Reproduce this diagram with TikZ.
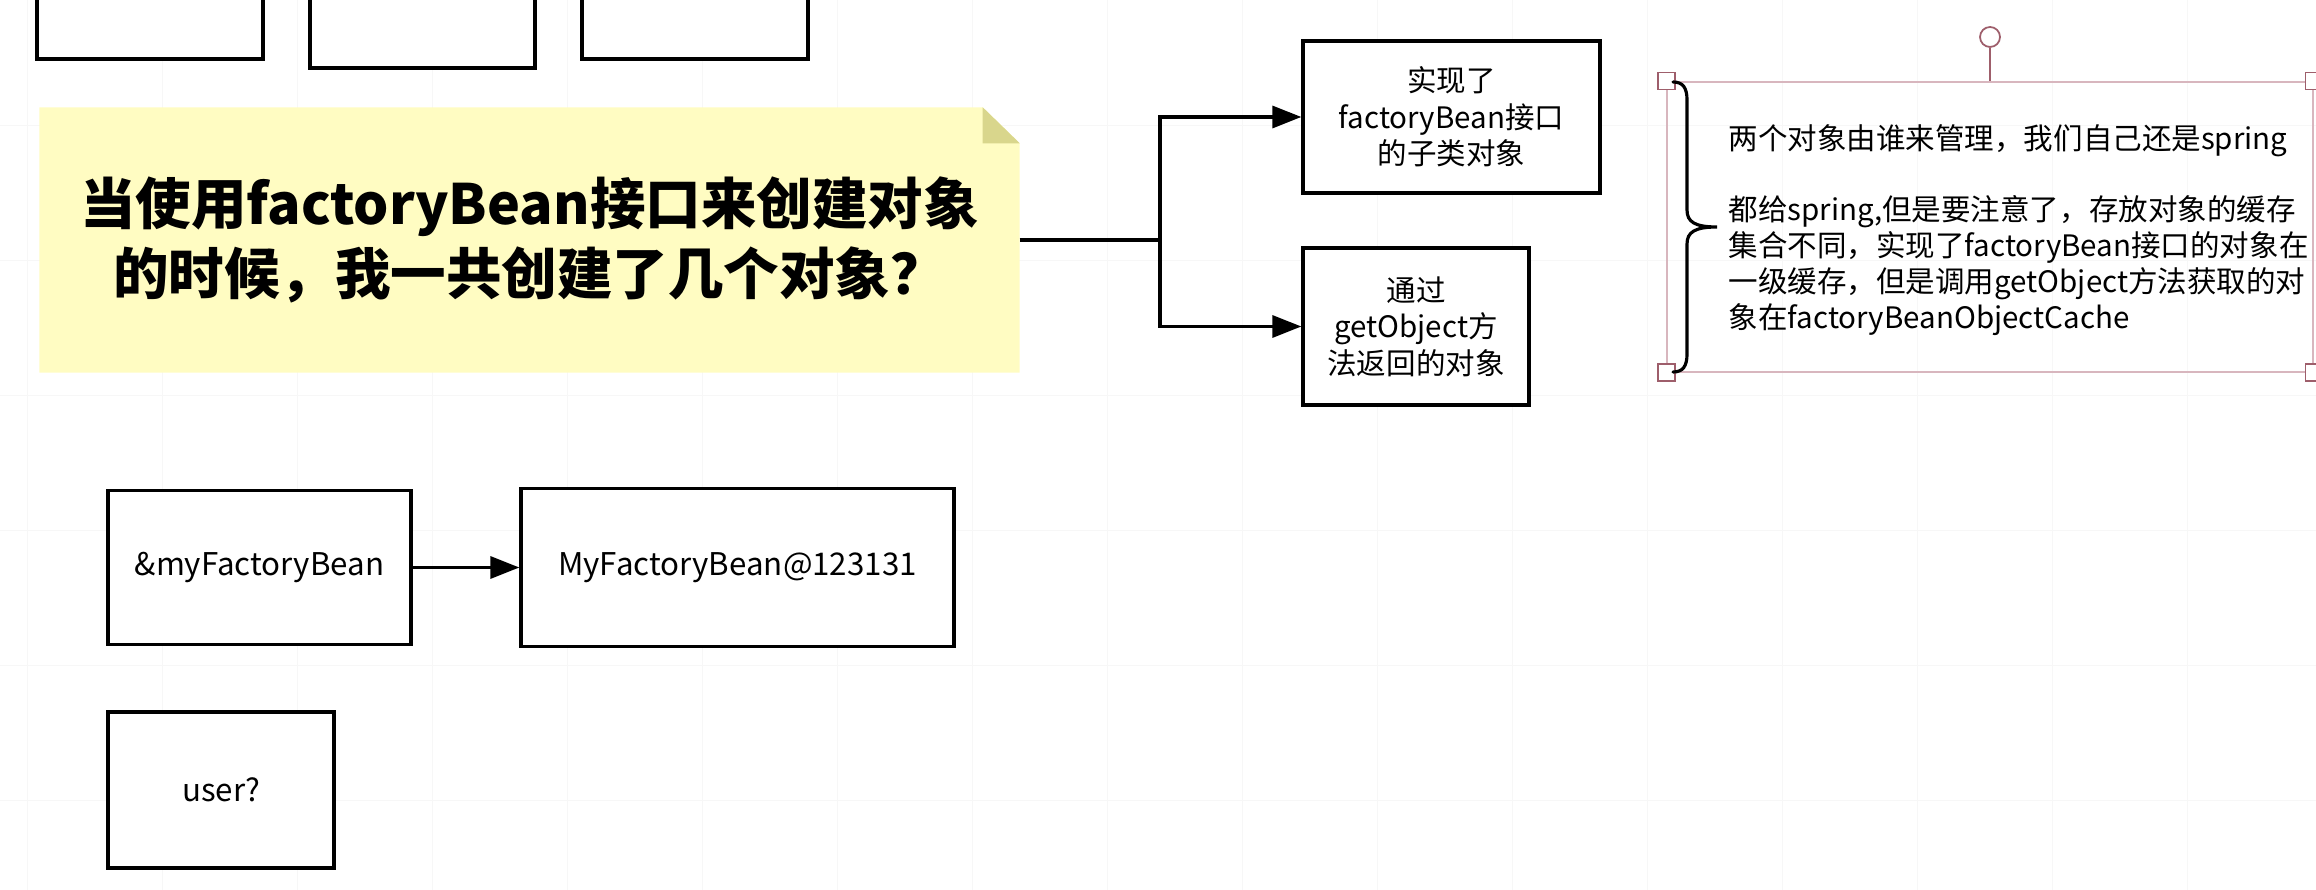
\documentclass[tikz,border=0pt]{standalone}
\usepackage{fontspec}
\setmainfont{Noto Sans CJK SC}
\usepackage{xcolor}
\usepackage{tikz}
\usetikzlibrary{arrows.meta,positioning,calc,backgrounds}
\definecolor{notefill}{HTML}{FFFCC2}
\definecolor{notefold}{HTML}{D9D68C}
\definecolor{selframe}{HTML}{D8B6BE}
\definecolor{selhandle}{HTML}{9E5E6B}
\definecolor{gridgray}{HTML}{F7F7F7}

\begin{document}
\begin{tikzpicture}[
    box/.style={draw=black, line width=0.95pt, fill=white, align=center, inner sep=0pt, font=\fontsize{8.4}{10.4}\selectfont},
    objbox/.style={box, font=\fontsize{8.9}{11}\selectfont},
    conn/.style={line width=0.95pt, -{Triangle[length=0.29cm,width=0.22cm]}},
    handle/.style={draw=selhandle, fill=white, line width=0.5pt, minimum size=0.17cm, inner sep=0pt}
]
            % fix the page
            \useasboundingbox (0,0) rectangle (23.16,-8.90);
            % draw the canvas grid
            \begin{scope}[on background layer]
            \foreach \x in {0.27,1.62,...,23.0}
            \draw[gridgray, very thin] (\x,0) -- (\x,-8.90);
            \foreach \y in {-1.25,-2.60,...,-8.1}
            \draw[gridgray, very thin] (0,\y) -- (23.16,\y);
            \end{scope}
            % draw the boxes cut by the top edge
            \node[box, minimum width=2.26cm, minimum height=1.55cm] (topa) at (1.50,0.185) {};
            \node[box, minimum width=2.25cm, minimum height=1.55cm] (topb) at (4.225,0.095) {};
            \node[box, minimum width=2.26cm, minimum height=1.55cm] (topc) at (6.95,0.185) {};
            % draw the question note
            \node[minimum width=9.79cm, minimum height=2.64cm, align=center, inner sep=0pt,
                font=\fontsize{15.8}{19.9}\selectfont\bfseries] (question) at (5.295,-2.40)
                {当使用factoryBean接口来创建对象\\的时候，我一共创建了几个对象？};
            \begin{scope}[on background layer]
            \fill[notefill] (question.north west) -- ($(question.north east)+(-0.37,0)$)
                -- ($(question.north east)+(0,-0.36)$) -- (question.south east) -- (question.south west) -- cycle;
            \fill[notefold] ($(question.north east)+(-0.37,0)$) -- ($(question.north east)+(-0.37,-0.36)$)
                -- ($(question.north east)+(0,-0.36)$) -- cycle;
            \end{scope}
            % draw the two objects
            \coordinate (split) at (11.60,-2.40);
            \node[box, minimum width=2.97cm, minimum height=1.52cm] (subobj) at (14.515,-1.17) {实现了\\factoryBean接口\\的子类对象};
            \node[box, minimum width=2.26cm, minimum height=1.57cm] (getobj) at (14.16,-3.265) {通过\\getObject方\\法返回的对象};
            \draw[line width=0.95pt] (question.east) -- (split);
            \draw[conn] (split) |- (subobj.west);
            \draw[conn] (split) |- (getobj.west);
            % draw the memo with its selection frame
            \node[draw=selframe, line width=0.5pt, minimum width=6.46cm, minimum height=2.90cm, inner sep=0pt] (memo) at (19.90,-2.27) {};
            \node[anchor=west, align=left, inner sep=0pt, font=\fontsize{8.4}{10.2}\selectfont] (memotext) at (17.28,-2.30)
                {两个对象由谁来管理，我们自己还是spring\\[10.2pt]都给spring,但是要注意了，存放对象的缓存\\集合不同，实现了factoryBean接口的对象在\\一级缓存，但是调用getObject方法获取的对\\象在factoryBeanObjectCache};
            \node[handle] (hnw) at (memo.north west) {};
            \node[handle] (hsw) at (memo.south west) {};
            \node[handle] (hne) at (memo.north east) {};
            \node[handle] (hse) at (memo.south east) {};
            \node[handle, circle, minimum size=0.20cm] (rot) at (19.90,-0.37) {};
            \draw[selhandle, line width=0.6pt] (rot) -- (memo.north);
            % draw the brace
            \draw[line width=0.9pt, line cap=round] (16.73,-0.82) .. controls (16.83,-0.82) and (16.87,-0.88) .. (16.87,-1.00)
                -- (16.87,-2.10) .. controls (16.87,-2.22) and (16.95,-2.27) .. (17.17,-2.27)
                .. controls (16.95,-2.27) and (16.87,-2.32) .. (16.87,-2.44)
                -- (16.87,-3.54) .. controls (16.87,-3.66) and (16.83,-3.72) .. (16.73,-3.72);
            % draw the bean names
            \node[objbox, minimum width=3.03cm, minimum height=1.54cm] (refname) at (2.595,-5.675) {\&myFactoryBean};
            \node[objbox, minimum width=4.33cm, minimum height=1.58cm] (fbinst) at (7.375,-5.675) {MyFactoryBean@123131};
            \node[objbox, minimum width=2.26cm, minimum height=1.56cm] (user) at (2.21,-7.90) {user?};
            \draw[conn] (refname) -- (fbinst);
\end{tikzpicture}
\end{document}
